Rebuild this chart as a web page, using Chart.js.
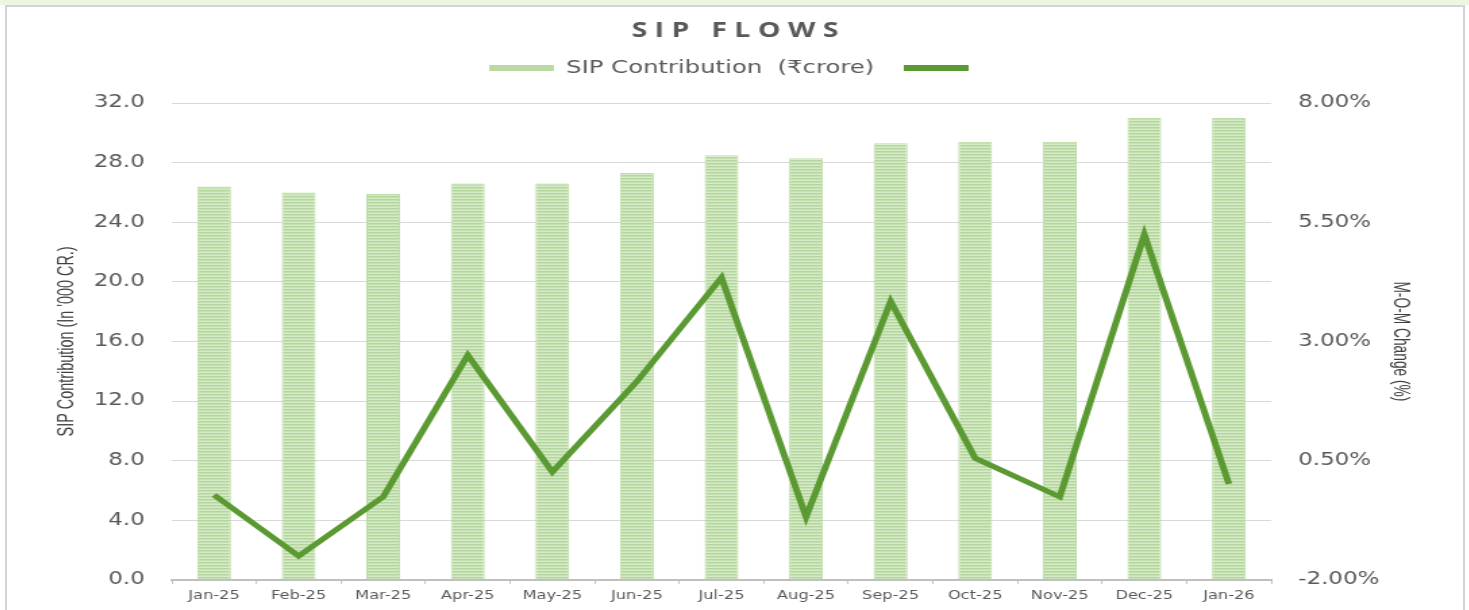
<!DOCTYPE html>
<html>
<head>
<meta charset="utf-8">
<script src="https://cdn.jsdelivr.net/npm/chart.js@4"></script>
<style>
  html, body { margin: 0; padding: 0; background: #fff; }
  body { width: 1469px; height: 610px; position: relative; overflow: hidden; }
  #strip { position: absolute; left: 0; top: 0; width: 1469px; height: 5px; background: #eef6e2; }
  #frame { position: absolute; left: 5px; top: 5px; width: 1460px; height: 620px;
           border: 2px solid #d4d4d4; box-sizing: border-box; }
  #wrap { position: absolute; left: 7px; top: 7px; width: 1078px; height: 603px;
          transform: scaleX(1.3506); transform-origin: 0 0; }
</style>
</head>
<body>
<div id="strip"></div>
<div id="frame"></div>
<div id="wrap"><canvas id="chart"></canvas></div>
<script>
const months = ['Jan-25', 'Feb-25', 'Mar-25', 'Apr-25', 'May-25', 'Jun-25', 'Jul-25', 'Aug-25', 'Sep-25', 'Oct-25', 'Nov-25', 'Dec-25', 'Jan-26'];
// SIP contribution, '000 crore
const sipContribution = [26.4, 26.0, 25.9, 26.6, 26.6, 27.3, 28.5, 28.3, 29.3, 29.4, 29.4, 31.0, 31.0];
// month on month change, %
const momChange = [-0.22, -1.50, -0.26, 2.71, 0.26, 2.16, 4.34, -0.68, 3.84, 0.55, -0.26, 5.24, 0.01];
const rightTickLabels = ['-2.00%', '0.50%', '3.00%', '5.50%', '8.00%'];

const chartTitle = 'SIP FLOWS';
const leftTitle = "SIP Contribution (In '000 CR.)";
const rightTitle = 'M-O-M Change (%)';

const lineGreen = '#5b9a33';
const gray = '#595959';

// striped fill for the bars
function stripes() {
    const c = document.createElement('canvas');
    c.width = 4; c.height = 3;
    const p = c.getContext('2d');
    p.fillStyle = '#d6eac8';
    p.fillRect(0, 0, 4, 3);
    p.fillStyle = '#b3d69c';
    p.fillRect(0, 0, 4, 1.5);
    return p.createPattern(c, 'repeat');
}
const barFill = stripes();

// title with letter spacing + condensed axis titles
const extraText = {
    id: 'extraText',
    afterDraw(chart) {
        const ctx = chart.ctx;
        const area = chart.chartArea;
        const midY = (area.top + area.bottom) / 2;

        ctx.save();
        ctx.font = 'bold 21px "Open Sans"';
        ctx.fillStyle = gray;
        ctx.textAlign = 'center';
        ctx.textBaseline = 'middle';
        ctx.letterSpacing = '5.5px';
        ctx.fillText(chartTitle, chart.width / 2 + 2.75, 24);
        ctx.restore();

        function sideTitle(text, x, angle, len) {
            ctx.save();
            ctx.font = '16px "Liberation Sans"';
            ctx.fillStyle = '#404040';
            ctx.textAlign = 'center';
            ctx.textBaseline = 'middle';
            const k = len / ctx.measureText(text).width;
            ctx.translate(x, midY);
            ctx.rotate(angle);
            ctx.scale(k, 1);
            ctx.fillText(text, 0, 0);
            ctx.restore();
        }
        sideTitle(leftTitle, 45, -Math.PI / 2, 190);
        sideTitle(rightTitle, 1031, Math.PI / 2, 120);
    }
};

const ctx = document.querySelector('#chart');

const chart = new Chart(ctx.getContext('2d'), {
    data: {
        labels: months,
        datasets: [
            {
                type: 'line',
                label: '',
                data: momChange,
                yAxisID: 'y1',
                borderColor: lineGreen,
                backgroundColor: lineGreen,
                borderWidth: 5,
                pointRadius: 0,
                tension: 0,
                order: 0
            },
            {
                type: 'bar',
                label: 'SIP Contribution  (₹crore)',
                data: sipContribution,
                yAxisID: 'y',
                backgroundColor: barFill,
                borderColor: '#bcdca7',
                borderWidth: 1,
                barPercentage: 0.4,
                categoryPercentage: 1,
                order: 1
            }
        ]
    },
    options: {
        responsive: true,
        maintainAspectRatio: false,
        animation: false,
        layout: { padding: { top: 30, left: 0, right: 0, bottom: 0 } },
        plugins: {
            title: { display: false },
            legend: {
                reverse: true,
                labels: {
                    color: gray,
                    font: { family: 'DejaVu Sans', size: 18 },
                    boxWidth: 48,
                    boxHeight: 6,
                    padding: 22,
                    generateLabels(chart) {
                        const items = Chart.defaults.plugins.legend.labels.generateLabels(chart);
                        items.forEach(function(item) {
                            item.lineWidth = 0;
                            item.fillStyle = item.datasetIndex === 1 ? '#b9dba3' : lineGreen;
                        });
                        return items;
                    }
                }
            },
            tooltip: { enabled: false }
        },
        scales: {
            x: {
                grid: { display: true, drawOnChartArea: false, drawTicks: true, tickLength: 4, color: '#bfbfbf', offset: true },
                border: { display: true, color: '#bfbfbf', width: 2 },
                ticks: { color: gray, font: { family: 'DejaVu Sans', size: 12 }, padding: 5, maxRotation: 0 },
                afterFit(scale) { scale.height = 29; }
            },
            // empty spacer between legend and plot
            xTop: {
                type: 'category',
                position: 'top',
                grid: { display: false },
                border: { display: false },
                ticks: { display: false },
                afterFit(scale) { scale.height = 16; }
            },
            y: {
                position: 'left',
                min: 0,
                max: 32,
                grid: { color: '#d9d9d9', drawTicks: false },
                border: { display: false },
                ticks: {
                    stepSize: 4,
                    color: gray,
                    padding: 20,
                    font: { family: 'DejaVu Sans', size: 17 },
                    callback: function(value) { return value.toFixed(1); }
                },
                afterFit(scale) { scale.width = 122; }
            },
            y1: {
                position: 'right',
                min: -2,
                max: 8,
                grid: { drawOnChartArea: false, drawTicks: false },
                border: { display: false },
                ticks: {
                    stepSize: 1.25,
                    color: gray,
                    padding: 20,
                    font: { family: 'DejaVu Sans', size: 17 },
                    callback: function(value, index) {
                        return index % 2 === 0 ? rightTickLabels[index / 2] : '';
                    }
                },
                afterFit(scale) { scale.width = 142; }
            }
        }
    },
    plugins: [extraText]
});
</script>
</body>
</html>
